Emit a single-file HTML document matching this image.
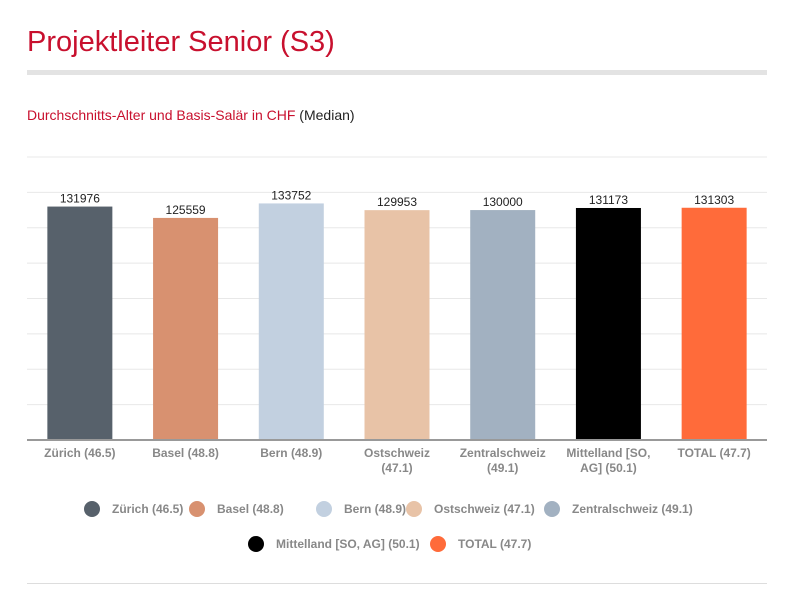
<!DOCTYPE html>
<html><head><meta charset="utf-8"><style>
body{margin:0;width:796px;height:598px;background:#fff;font-family:"Liberation Sans",sans-serif;position:relative;overflow:hidden}
.t{position:absolute}
</style></head><body>
<div class="t" style="left:27px;top:26px;font-size:29px;color:#c8102e">Projektleiter Senior (S3)</div>
<div class="t" style="left:27px;top:70px;width:740px;height:5px;background:#e3e3e3"></div>
<div class="t" style="left:27px;top:107px;font-size:14px;color:#222"><span style="color:#c8102e">Durchschnitts-Alter und Basis-Salär in CHF</span> (Median)</div>
<div class="t" style="left:27px;top:583px;width:740px;height:1px;background:#ddd"></div>
<svg id="chart" width="796" height="598" style="position:absolute;left:0;top:0"></svg>
<script>
const categories=["Zürich (46.5)","Basel (48.8)","Bern (48.9)","Ostschweiz (47.1)","Zentralschweiz (49.1)","Mittelland [SO, AG] (50.1)","TOTAL (47.7)"];
const axisLabels=[["Zürich (46.5)"],["Basel (48.8)"],["Bern (48.9)"],["Ostschweiz","(47.1)"],["Zentralschweiz","(49.1)"],["Mittelland [SO,","AG] (50.1)"],["TOTAL (47.7)"]];
const values=[131976,125559,133752,129953,130000,131173,131303];
const colors=["#57616b","#d89170","#c2d0e0","#e8c3a7","#a2b1c1","#000000","#ff6b3a"];
const ticks=[0,20000,40000,60000,80000,100000,120000,140000,160000];
const legendX=[92,197,324,414,552,256,438];
const legendRow=[0,0,0,0,0,1,1];
const svg=document.getElementById('chart');const NS='http://www.w3.org/2000/svg';
const x0=27,x1=767,y0=440,y1=157,maxV=160000;
const y=v=>y0-(v/maxV)*(y0-y1);
const band=(x1-x0)/categories.length;
const xc=i=>x0+band*(i+0.5);
function mk(t,a){const e=document.createElementNS(NS,t);for(const k in a)e.setAttribute(k,a[k]);svg.appendChild(e);return e;}
ticks.forEach(t=>{if(t===0)return;const l=mk('line',{x1:x0,x2:x1,y1:y(t),y2:y(t),stroke:'#e8e8e8','stroke-width':1});

});
values.forEach((v,i)=>{
const r=mk('rect',{x:xc(i)-32.5,y:y(v),width:65,height:y0-y(v),fill:colors[i]});


const tx=mk('text',{x:xc(i),y:y(v)-4,'text-anchor':'middle','font-size':12,fill:'#222'});tx.textContent=v;


axisLabels[i].forEach((s,j)=>{const a=mk('text',{x:xc(i),y:457+j*15,'text-anchor':'middle','font-size':12,fill:'#888','font-weight':'bold'});a.textContent=s;

});
const ly=legendRow[i]?544:509;
const c=mk('circle',{cx:legendX[i],cy:ly,r:8,fill:colors[i]});


const lt=mk('text',{x:legendX[i]+20,y:ly+4,'font-size':12,fill:'#888','font-weight':'bold'});lt.textContent=categories[i];


});
const ax=mk('line',{x1:x0,x2:x1,y1:y0,y2:y0,stroke:'#999','stroke-width':2});


</script>
</body></html>
